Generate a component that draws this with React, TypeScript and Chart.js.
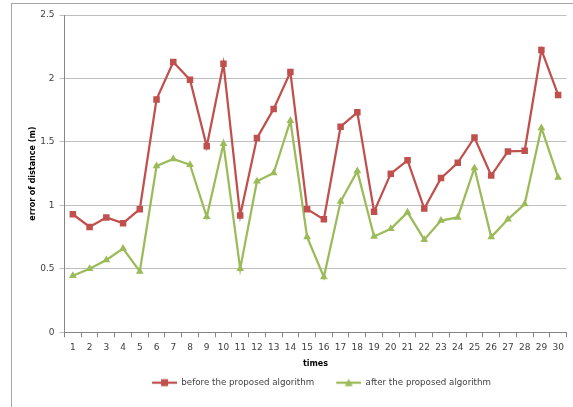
import React, { useEffect, useRef } from "react";
import { Chart, registerables } from "chart.js";

Chart.register(...registerables);

const times = [
  "1", "2", "3", "4", "5", "6", "7", "8", "9", "10",
  "11", "12", "13", "14", "15", "16", "17", "18", "19", "20",
  "21", "22", "23", "24", "25", "26", "27", "28", "29", "30",
];

const beforeValues = [
  0.93, 0.83, 0.905, 0.86, 0.97, 1.835, 2.13, 1.99, 1.465, 2.115,
  0.92, 1.53, 1.76, 2.05, 0.97, 0.89, 1.62, 1.733, 0.95, 1.25,
  1.355, 0.975, 1.215, 1.335, 1.535, 1.235, 1.425, 1.43, 2.225, 1.87,
];

const afterValues = [
  0.445, 0.5, 0.57, 0.66, 0.48, 1.31, 1.365, 1.32, 0.91, 1.485,
  0.5, 1.19, 1.255, 1.667, 0.75, 0.436, 1.03, 1.27, 0.755, 0.815,
  0.945, 0.73, 0.88, 0.905, 1.295, 0.75, 0.89, 1.01, 1.61, 1.22,
];

const seriesNames = ["before the proposed algorithm", "after the proposed algorithm"];
const yAxisTitle = "error of distance (m)";
const xAxisTitle = "times";

const RED = "#C0504D";
const GREEN = "#9BBB59";
const FONT = "'DejaVu Sans', sans-serif";

const ICON_MARGIN = 12;
const ICON_LINE = 25;

function legendIcon(color: string, style: "rect" | "triangle"): HTMLCanvasElement {
  const c = document.createElement("canvas");
  c.width = ICON_MARGIN + ICON_LINE;
  c.height = 10;
  const ctx = c.getContext("2d")!;
  const x0 = ICON_MARGIN;
  const mid = x0 + ICON_LINE / 2;
  ctx.strokeStyle = color;
  ctx.lineWidth = 2.25;
  ctx.beginPath();
  ctx.moveTo(x0, 5);
  ctx.lineTo(x0 + ICON_LINE, 5);
  ctx.stroke();
  ctx.fillStyle = color;
  if (style === "rect") {
    ctx.fillRect(mid - 3.5, 5 - 3.5, 7, 7);
  } else {
    ctx.beginPath();
    ctx.moveTo(mid, 1);
    ctx.lineTo(mid + 4, 8.5);
    ctx.lineTo(mid - 4, 8.5);
    ctx.closePath();
    ctx.fill();
  }
  return c;
}

export default function App() {
  const canvasRef = useRef<HTMLCanvasElement | null>(null);

  useEffect(() => {
    if (!canvasRef.current) return;
    const icons = [legendIcon(RED, "rect"), legendIcon(GREEN, "triangle")];
    const chart = new Chart(canvasRef.current, {
      type: "line",
      data: {
        labels: times,
        datasets: [
          {
            label: seriesNames[0],
            data: beforeValues,
            borderColor: RED,
            backgroundColor: RED,
            borderWidth: 2.25,
            pointStyle: "rect",
            pointRadius: 4.6,
            pointBorderWidth: 0,
            tension: 0,
          },
          {
            label: seriesNames[1],
            data: afterValues,
            borderColor: GREEN,
            backgroundColor: GREEN,
            borderWidth: 2.25,
            pointStyle: "triangle",
            pointRadius: 4.5,
            pointBorderWidth: 0,
            tension: 0,
          },
        ],
      },
      options: {
        animation: false,
        responsive: false,
        layout: { padding: { top: 15, right: 6.5, bottom: 10, left: 0 } },
        plugins: {
          tooltip: { enabled: false },
          legend: {
            position: "bottom",
            fullSize: false,
            labels: {
              usePointStyle: true,
              pointStyleWidth: ICON_MARGIN + ICON_LINE,
              padding: 10,
              color: "#404040",
              font: { family: FONT, size: 8.7 },
              generateLabels: (ch: any) => {
                const items = Chart.defaults.plugins.legend.labels.generateLabels(ch);
                return items.map((it: any, i: number) => ({ ...it, pointStyle: icons[i] }));
              },
            },
          },
        },
        scales: {
          x: {
            type: "category",
            offset: true,
            afterFit: (s: any) => {
              s.height = 36;
            },
            grid: {
              offset: true,
              drawOnChartArea: false,
              drawTicks: true,
              tickLength: 5,
              color: "#868686",
            },
            border: { color: "#868686", width: 1 },
            ticks: {
              autoSkip: false,
              maxRotation: 0,
              padding: 5,
              color: "#404040",
              font: { family: FONT, size: 9 },
            },
            title: {
              display: true,
              text: xAxisTitle,
              color: "#000000",
              font: { family: FONT, size: 8, weight: "bold" },
              padding: { top: 0, bottom: 0 },
            },
          },
          y: {
            min: 0,
            max: 2.5,
            afterFit: (s: any) => {
              s.width = 64.5;
            },
            grid: {
              color: "#BFBFBF",
              drawTicks: true,
              tickLength: 5,
              lineWidth: 1,
            },
            border: { color: "#868686", width: 1 },
            ticks: {
              stepSize: 0.5,
              padding: 5,
              color: "#404040",
              font: { family: FONT, size: 9 },
              callback: (v: any) => String(Math.round(Number(v) * 10) / 10),
            },
            title: {
              display: true,
              text: yAxisTitle,
              color: "#000000",
              font: { family: FONT, size: 8, weight: "bold" },
              padding: { top: 28, bottom: 0 },
            },
          },
        },
      },
    });
    return () => chart.destroy();
  }, []);

  return (
    <div style={{ position: "absolute", left: 0, top: 0, width: 573, height: 407, background: "#ffffff", overflow: "hidden" }}>
      <div
        style={{
          position: "absolute",
          left: 11,
          top: 3,
          width: 562,
          height: 404,
          borderTop: "1px solid #A6A6A6",
          borderLeft: "1px solid #A6A6A6",
          boxSizing: "border-box",
        }}
      />
      <canvas ref={canvasRef} width={573} height={407} style={{ position: "absolute", left: 0, top: 0 }} />
    </div>
  );
}
